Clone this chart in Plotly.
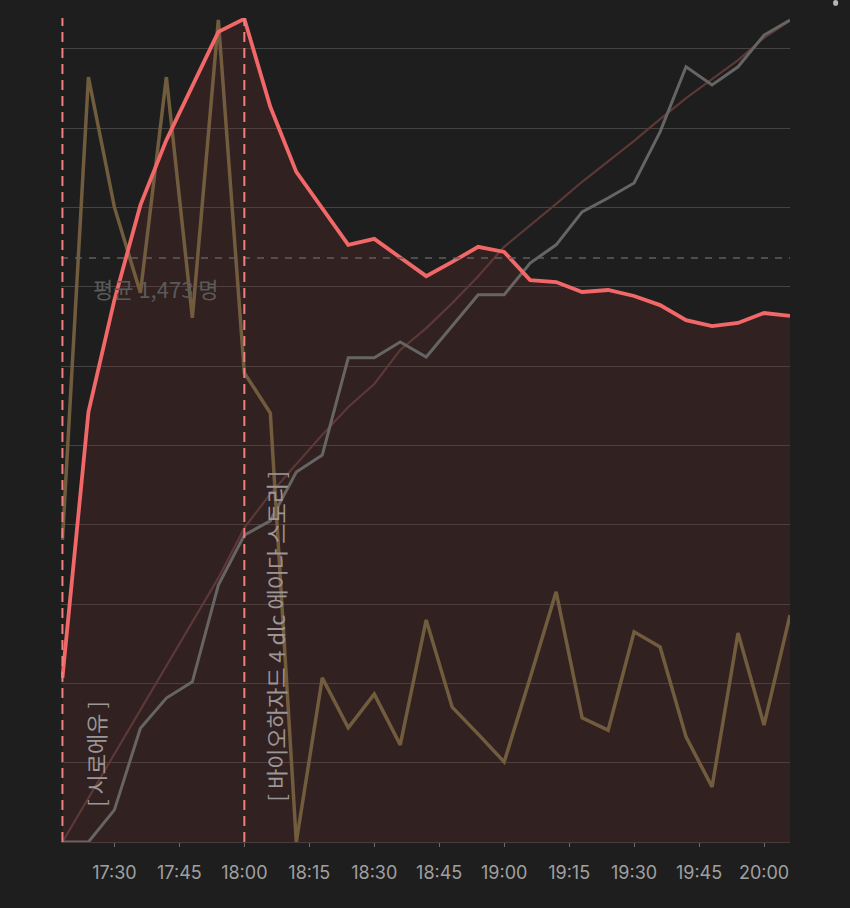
import pandas as pd
import plotly.graph_objects as go

# ---- data ----
times = ["17:18", "17:24", "17:30", "17:36", "17:42", "17:48", "17:54",
         "18:00", "18:06", "18:12", "18:18", "18:24", "18:30", "18:36",
         "18:42", "18:48", "18:54", "19:00", "19:06", "19:12", "19:18",
         "19:24", "19:30", "19:36", "19:42", "19:48", "19:54", "20:00", "20:06"]

viewers = [414, 1084, 1367, 1606, 1770, 1907, 2043,
           2076, 1854, 1690, 1599, 1506, 1521, 1473,
           1427, 1463, 1501, 1488, 1417, 1412, 1387,
           1392, 1377, 1354, 1316, 1301, 1309, 1334, 1327]

chat = [762, 1929, 1601, 1385, 1929, 1322, 2073,
        1183, 1082, 0, 414, 288, 373, 245,
        560, 340, 272, 202, 414, 631, 313,
        282, 530, 492, 265, 139, 527, 295, 572]

followers = [0, 0, 81, 287, 363, 404, 648,
             774, 810, 933, 976, 1221, 1221, 1261,
             1223, 1301, 1380, 1380, 1460, 1506, 1589,
             1624, 1662, 1791, 1955, 1909, 1955, 2035, 2073]

cumulative = [0, 111, 222, 333, 444, 555, 666,
              792, 878, 953, 1027, 1097, 1155, 1241,
              1296, 1359, 1427, 1501, 1554, 1609, 1665,
              1717, 1768, 1823, 1876, 1924, 1972, 2028, 2071]

tick_labels = ["17:30", "17:45", "18:00", "18:15", "18:30", "18:45",
               "19:00", "19:15", "19:30", "19:45", "20:00"]

avg_value = 1473
avg_label = "평균 1,473 명"
events = [("17:18", "[ 시로에유 ]"), ("18:00", "[ 바이오하자드 4 dlc 에이다 스토리 ]")]

DAY = "2024-01-01 "
x = pd.to_datetime([DAY + t for t in times])
tickvals = pd.to_datetime([DAY + t for t in tick_labels])
x_start = x[0] - pd.Timedelta(seconds=20)

BG = "#1e1e1e"
fig = go.Figure()

# area fill under viewers
fig.add_trace(go.Scatter(x=x, y=viewers, mode="lines", line=dict(width=0, color="rgba(0,0,0,0)"),
                         fill="tozeroy", fillcolor="rgba(110,45,45,0.25)", hoverinfo="skip",
                         showlegend=False))
fig.add_trace(go.Scatter(x=x, y=cumulative, mode="lines", line=dict(color="#5c3836", width=2.2),
                         showlegend=False))
fig.add_trace(go.Scatter(x=x, y=followers, mode="lines", line=dict(color="#676464", width=3),
                         showlegend=False))
fig.add_trace(go.Scatter(x=x, y=chat, mode="lines", line=dict(color="#715c3e", width=3.5),
                         showlegend=False))
fig.add_trace(go.Scatter(x=x, y=viewers, mode="lines", line=dict(color="#f26868", width=3.8),
                         showlegend=False))

# average line
fig.add_shape(type="line", xref="x", yref="y", x0=x_start, x1=x[-1], y0=avg_value, y1=avg_value,
              line=dict(color="#5f5f5f", width=1.5, dash="7px,7px"))
fig.add_annotation(xref="paper", yref="y", x=0.041, y=avg_value, yshift=-30, xanchor="left",
                   yanchor="middle", text=avg_label, showarrow=False,
                   font=dict(family="Noto Sans CJK KR", size=22, color="#5a5a5a"))

# event markers
ymax = 2078
label_pos = [(0.0466, 0.107), (0.2941, 0.250)]
for (t, label), (px, py) in zip(events, label_pos):
    tx = pd.Timestamp(DAY + t)
    fig.add_shape(type="line", xref="x", yref="y", x0=tx, x1=tx, y0=0, y1=ymax,
                  line=dict(color="#f07f7f", width=2, dash="10px,6px"))
    fig.add_annotation(xref="paper", yref="paper", x=px, y=py, text=label, textangle=-90,
                       showarrow=False, xanchor="center", yanchor="middle",
                       font=dict(family="Noto Sans CJK KR", size=22, color="#9c9696"))

# small indicator dot at top-right
fig.add_shape(type="circle", xref="paper", yref="paper", x0=1.0591, x1=1.0661, y0=1.0148, y1=1.0218,
              line=dict(width=0), fillcolor="#b5b5b5")

fig.update_layout(
    width=850, height=908,
    margin=dict(l=61, r=60, t=18, b=66),
    paper_bgcolor=BG, plot_bgcolor=BG,
    showlegend=False,
    xaxis=dict(range=[x_start, x[-1]], tickvals=tickvals, ticktext=tick_labels,
               showgrid=False, zeroline=False, showline=True, linecolor="#4a3c3c", linewidth=1,
               ticks="outside", ticklen=4, tickwidth=1, tickcolor="#6a6a6a",
               ticklabelstandoff=10,
               tickfont=dict(family="Inter, Noto Sans CJK KR", size=18, color="#a0a0a0"),
               fixedrange=True),
    yaxis=dict(range=[0, ymax], dtick=200, tick0=0, showticklabels=False, showgrid=True,
               gridcolor="#444444", gridwidth=1, zeroline=False, showline=False, ticks="",
               fixedrange=True),
)

fig.write_html("out.html", config={"displayModeBar": False},
               post_script="document.body.style.margin='0';document.body.style.background='#1e1e1e';")
